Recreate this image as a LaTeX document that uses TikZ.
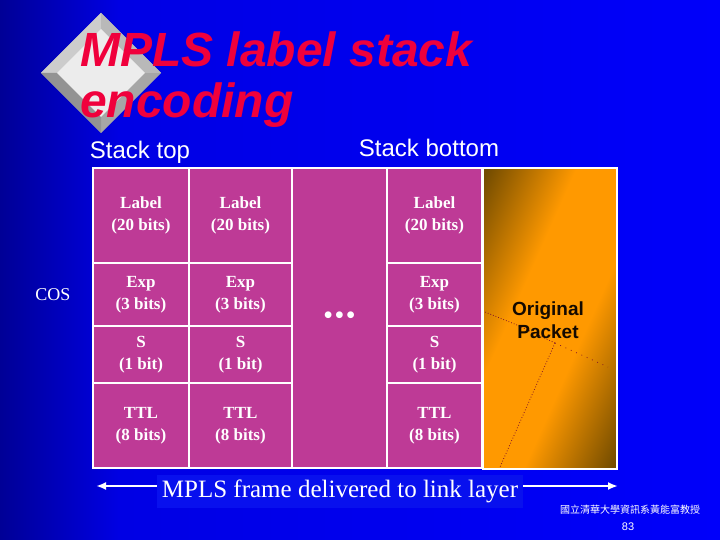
\documentclass[tikz,border=0pt]{standalone}
\usepackage{fontspec}
\setmainfont{Liberation Serif}
\setsansfont{Liberation Sans}
\newfontfamily\cjk{Noto Sans CJK TC}
\usetikzlibrary{arrows.meta,calc}

\definecolor{bgblue}{RGB}{0,0,228}
\definecolor{bgbright}{RGB}{0,0,250}
\definecolor{bgdark}{RGB}{0,0,150}
\definecolor{boxblue}{RGB}{8,16,238}
\definecolor{cellmag}{RGB}{190,58,150}
\definecolor{titlered}{RGB}{240,0,60}
\definecolor{pktorange}{RGB}{255,153,0}
\definecolor{pktdark}{RGB}{115,76,0}
\definecolor{leadred}{RGB}{130,20,40}

\pgfdeclareverticalshading{pktshade}{100bp}{color(0bp)=(pktdark); color(18bp)=(pktdark);
  color(40bp)=(pktorange); color(60bp)=(pktorange); color(82bp)=(pktdark); color(100bp)=(pktdark)}

\begin{document}
\begin{tikzpicture}[x=1pt,y=-1pt]

% --------------------
% Parameters (pixel grid of the slide)
% --------------------
\def\rowA{168} \def\rowE{468}   % stack top / bottom edge
\def\gapL{292} \def\gapR{387}   % "..." column

\tikzset{
  cell/.style={draw=white, line width=1.5pt, fill=cellmag, inner sep=0pt,
    text=white, align=center, font=\bfseries\fontsize{17}{22}\selectfont},
  packet/.style={draw=white, line width=1.5pt, inner sep=0pt,
    shading=pktshade, shading angle=66},
  pkttxt/.style={align=center, text={rgb,255:red,20;green,10;blue,0},
    font=\sffamily\bfseries\fontsize{19}{23}\selectfont},
  heading/.style={text=white, font=\sffamily\fontsize{24}{28}\selectfont},
  title/.style={anchor=base west, inner sep=0pt, text=titlered,
    font=\sffamily\bfseries\itshape\fontsize{48}{51}\selectfont},
  lead/.style={draw=leadred, line width=0.8pt, dotted},
  arrow/.style={draw=white, line width=2.5pt, -{Latex[length=10pt,width=8pt]}}
}

\useasboundingbox (0,0) rectangle (720,540);

% --------------------
% Background
% --------------------
\shade[left color=bgdark, right color=bgblue] (0,0) rectangle (120,540);
\shade[left color=bgblue, right color=bgbright] (120,0) rectangle (720,540);

% --------------------
% Logo diamond and title
% --------------------
\fill[gray!70] (41,73) -- (101,13) -- (161,73) -- (101,133) -- cycle;
\fill[gray!40] (41,73) -- (101,13) -- (101,29) -- (57,73) -- cycle;
\fill[gray!55] (101,13) -- (161,73) -- (145,73) -- (101,29) -- cycle;
\fill[gray!85] (41,73) -- (101,133) -- (101,117) -- (57,73) -- cycle;
\fill[gray!15] (101,29) -- (145,73) -- (101,117) -- (57,73) -- cycle;

\node[title] (title1) at (80,67) {MPLS label stack};
\node[title] (title2) at (80,118) {encoding};

% --------------------
% Headings
% --------------------
\node[heading] (top) at (140,152) {Stack top};
\node[heading] (bottom) at (429,148) {Stack bottom};
\node[text=white, font=\fontsize{18}{22}\selectfont] (cos) at (53,295) {COS};

% --------------------
% Label stack entries
% --------------------
\foreach \col/\xa/\xb in {a/93/189, b/189/292, d/387/482}{
  \foreach \row/\ya/\yb/\txt in {lab/168/263/{Label\\(20 bits)}, exp/263/326/{Exp\\(3 bits)},
                                 s/326/383/{S\\(1 bit)}, ttl/383/468/{TTL\\(8 bits)}}{
    \node[cell, minimum width={(\xb-\xa)*1pt}, minimum height={(\yb-\ya)*1pt}]
      (\col-\row) at ({(\xa+\xb)/2},{(\ya+\yb)/2}) {\txt};
  }
}

\node[cell, minimum width={(\gapR-\gapL)*1pt}, minimum height={(\rowE-\rowA)*1pt},
  font=\bfseries\fontsize{25}{22}\selectfont]
  (gap) at ({(\gapL+\gapR)/2},{(\rowA+\rowE)/2})
  {\textbullet\hspace{2.5pt}\textbullet\hspace{2.5pt}\textbullet};

% --------------------
% Original packet
% --------------------
\node[packet, minimum width=134pt, minimum height=301pt] (pkt) at (550,318.5) {};

\coordinate (hub) at (555,343);
\coordinate (leadA) at (485,312);
\coordinate (leadB) at (500,467);
\coordinate (leadC) at (608,367);
\draw[lead] (hub) -- (517,325) -- (leadA);
\draw[lead] (hub) -- (leadB);
\draw[lead, dash pattern=on 0.8pt off 5pt] (hub) -- (leadC);

\node[pkttxt] (pkt-lbl) at (548,320) {Original\\Packet};

% --------------------
% Frame extent
% --------------------
\node[fill=boxblue, text=white, inner sep=5pt, font=\fontsize{25}{28}\selectfont]
  (frame) at (340,491) {MPLS frame delivered to link layer};
\coordinate (fL) at (96,486);
\coordinate (fR) at (618,486);
\draw[arrow] (frame.west |- fL) -- (fL);
\draw[arrow] (frame.east |- fR) -- (fR);

% --------------------
% Footer
% --------------------
\node[text=white, font=\cjk\fontsize{10}{12}\selectfont] (dept) at (630,510) {國立清華大學資訊系黃能富教授};
\node[text=white, font=\sffamily\fontsize{11}{13}\selectfont] (page) at (628,527) {83};

\end{tikzpicture}
\end{document}
